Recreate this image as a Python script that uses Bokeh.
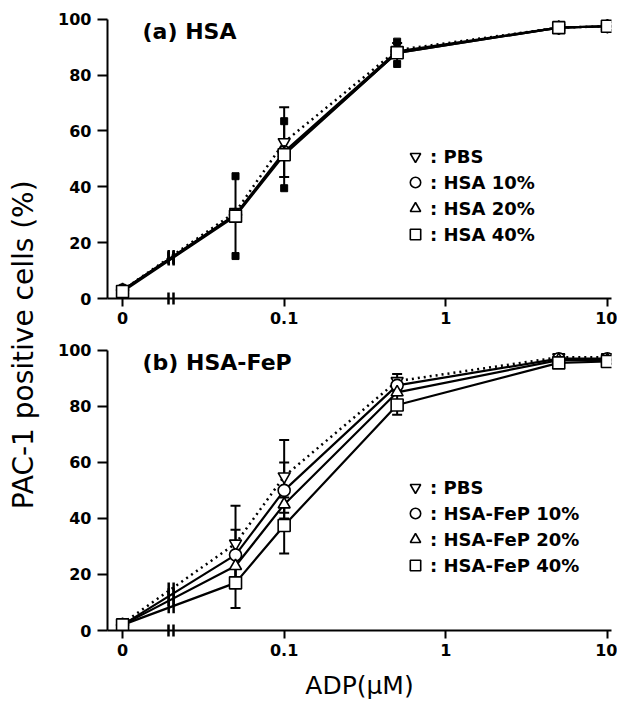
import math
from bokeh.plotting import figure
from bokeh.layouts import row, column
from bokeh.models import (Range1d, FixedTicker, Label, Legend, LegendItem,
                          Whisker, ColumnDataSource, TeeHead)
from bokeh.embed import file_html
from bokeh.resources import INLINE

# ---------------- data ----------------
ADP = [0, 0.05, 0.1, 0.5, 5, 10]          # ADP concentration (uM)
ZERO_POS = 0.01                            # where dose "0" is drawn on the log axis
BREAK_X = 0.02                             # axis break position

X_TICKS = [0.01, 0.1, 1, 10]
X_TICK_LABELS = ["0", "0.1", "1", "10"]
Y_TICKS = [0, 20, 40, 60, 80, 100]

# panel (a) HSA
A_LABELS = ["PBS", "HSA 10%", "HSA 20%", "HSA 40%"]
A_PBS = [3, 31, 56, 89, 97, 97.5]
A_HSA10 = [3, 30, 52.5, 88.5, 97, 97.5]
A_HSA20 = [3, 30, 52, 88, 97, 97.5]
A_HSA40 = [2.5, 29.5, 51.5, 88, 97, 97.5]
A_PBS_ERR = [0, 0, 12.5, 2.5, 0, 0]
A_HSA40_ERR = [0, 14.3, 12, 4, 0, 0]

# panel (b) HSA-FeP
B_LABELS = ["PBS", "HSA-FeP 10%", "HSA-FeP 20%", "HSA-FeP 40%"]
B_PBS = [2.5, 31, 55, 89, 97.5, 97.5]
B_FEP10 = [2, 27, 50, 87.5, 97, 97]
B_FEP20 = [2, 23, 45, 85, 96.5, 96.5]
B_FEP40 = [2, 17, 37.5, 80.5, 95.5, 96]
B_PBS_ERR = [0, 13.5, 13, 2.5, 1, 1]
B_FEP10_ERR = [0, 9, 10, 2, 0, 0]
B_FEP40_ERR = [0, 9, 10, 3.5, 1, 1]

# ---------------- styles ----------------
MARKERS = ["inverted_triangle", "circle", "triangle", "square"]
DASHES = ["2 4", "solid", "solid", "solid"]
FONT = "DejaVu Sans"
X_START, X_END = 0.00807, 10.6
Y_START, Y_END = 0, 101
BREAK_OFFS = (0.965, 1.035)
LAB_W = 42
MAIN_W = 617 - LAB_W

XPOS = [ZERO_POS if v == 0 else v for v in ADP]


def break_y(vals):
    l0, l1, lb = math.log10(XPOS[0]), math.log10(XPOS[1]), math.log10(BREAK_X)
    return vals[0] + (vals[1] - vals[0]) * (lb - l0) / (l1 - l0)


def make_panel(series, labels, tee_errs, sq_errs, title, height, btop, bbot,
               legend_loc, xlabel=None):
    p = figure(width=MAIN_W, height=height, x_axis_type="log",
               x_range=Range1d(X_START, X_END), y_range=Range1d(Y_START, Y_END),
               output_backend="svg", toolbar_location=None,
               min_border_left=107 - LAB_W, min_border_right=6,
               min_border_top=btop, min_border_bottom=bbot)
    p.outline_line_color = None
    p.grid.visible = False
    p.background_fill_color = "white"
    p.border_fill_color = "white"

    # axes
    xa = p.xaxis[0]
    xa.ticker = FixedTicker(ticks=X_TICKS,
                            minor_ticks=[BREAK_X * f for f in BREAK_OFFS])
    xa.major_label_overrides = {t: l for t, l in zip(X_TICKS, X_TICK_LABELS)}
    xa.axis_line_width = 2
    xa.major_tick_line_width = 2
    xa.major_tick_out = 8
    xa.major_tick_in = 0
    # minor ticks serve as the axis-break "||" marks
    xa.minor_tick_line_color = "black"
    xa.minor_tick_line_width = 2.5
    xa.minor_tick_in = 6
    xa.minor_tick_out = 6
    xa.major_label_standoff = 5
    xa.major_label_text_font = FONT
    xa.major_label_text_font_style = "bold"
    xa.major_label_text_font_size = "16px"
    xa.major_label_text_color = "black"
    if xlabel:
        xa.axis_label = xlabel
        xa.axis_label_text_font = FONT
        xa.axis_label_text_font_style = "normal"
        xa.axis_label_text_font_size = "25px"
        xa.axis_label_text_color = "black"
        xa.axis_label_standoff = 12

    ya = p.yaxis[0]
    ya.ticker = FixedTicker(ticks=Y_TICKS)
    ya.bounds = (0, 100)
    ya.axis_line_width = 2
    ya.major_tick_line_width = 2
    ya.major_tick_out = 10
    ya.major_tick_in = 0
    ya.minor_tick_line_color = None
    ya.major_label_standoff = 6
    ya.major_label_text_font = FONT
    ya.major_label_text_font_style = "bold"
    ya.major_label_text_font_size = "16px"
    ya.major_label_text_color = "black"

    # lines
    for vals, dash in zip(series, DASHES):
        p.line(XPOS, vals, line_color="black", line_width=2.5 if dash != "solid" else 2.2,
               line_dash=dash)

    # error bars with tee caps
    for idx, err in tee_errs:
        xs = [x for x, e in zip(XPOS, err) if e > 0]
        ys = [v for v, e in zip(series[idx], err) if e > 0]
        es = [e for e in err if e > 0]
        src = ColumnDataSource(dict(x=xs, up=[y + e for y, e in zip(ys, es)],
                                    lo=[y - e for y, e in zip(ys, es)]))
        p.add_layout(Whisker(source=src, base="x", upper="up", lower="lo",
                             dimension="height", line_width=2, line_color="black",
                             upper_head=TeeHead(size=10, line_width=2, line_color="black"),
                             lower_head=TeeHead(size=10, line_width=2, line_color="black")))
    # error bars with filled square caps
    for idx, err in sq_errs:
        xs = [x for x, e in zip(XPOS, err) if e > 0]
        ys = [v for v, e in zip(series[idx], err) if e > 0]
        es = [e for e in err if e > 0]
        up = [y + e for y, e in zip(ys, es)]
        lo = [y - e for y, e in zip(ys, es)]
        p.segment(xs, lo, xs, up, line_color="black", line_width=2)
        p.scatter(xs + xs, up + lo, marker="square", size=7, fill_color="black",
                  line_color="black")

    # break marks on the lines
    by = [break_y(v) for v in series]
    for f in BREAK_OFFS:
        p.scatter([BREAK_X * f] * len(by), by, marker="dash", size=13,
                  angle=math.pi / 2, line_color="black", line_width=2.5)

    # markers
    items = []
    for vals, mk, lab in zip(series, MARKERS, labels):
        r = p.scatter(XPOS, vals, marker=mk, size=12, fill_color="white",
                      line_color="black", line_width=1.6)
        items.append(LegendItem(label=": " + lab, renderers=[r]))

    legend = Legend(items=items, location=legend_loc, border_line_color=None,
                    background_fill_alpha=0, padding=0, margin=0, spacing=0,
                    glyph_width=26, glyph_height=26, label_height=26,
                    label_standoff=2, label_text_font=FONT,
                    label_text_font_style="bold",
                    label_text_font_size="18px", label_text_color="black")
    p.add_layout(legend)

    p.add_layout(Label(x=0.0133, y=95.5, text=title, text_font=FONT,
                       text_font_style="bold", text_font_size="22px",
                       text_color="black", text_align="left", text_baseline="middle"))
    return p


top = make_panel([A_PBS, A_HSA10, A_HSA20, A_HSA40], A_LABELS,
                 [(0, A_PBS_ERR)], [(3, A_HSA40_ERR)], "(a) HSA",
                 341, 16, 43, (295, 51))
bottom = make_panel([B_PBS, B_FEP10, B_FEP20, B_FEP40], B_LABELS,
                    [(0, B_PBS_ERR), (1, B_FEP10_ERR), (3, B_FEP40_ERR)], [],
                    "(b) HSA-FeP", 369, 6, 80, (295, 52), xlabel="ADP(\u03bcM)")

lab = figure(width=LAB_W, height=710, x_range=Range1d(0, 1), y_range=Range1d(0, 1),
             x_axis_location=None, y_axis_location=None, output_backend="svg",
             toolbar_location=None, min_border=0)
lab.outline_line_color = None
lab.grid.visible = False
lab.add_layout(Label(x=0.55, y=0.515, text="PAC-1 positive cells (%)", angle=math.pi / 2,
                     text_font=FONT, text_font_size="28px", text_color="black",
                     text_align="center", text_baseline="middle"))

layout = row(lab, column(top, bottom))
open("out.html", "w").write(file_html(layout, INLINE))
